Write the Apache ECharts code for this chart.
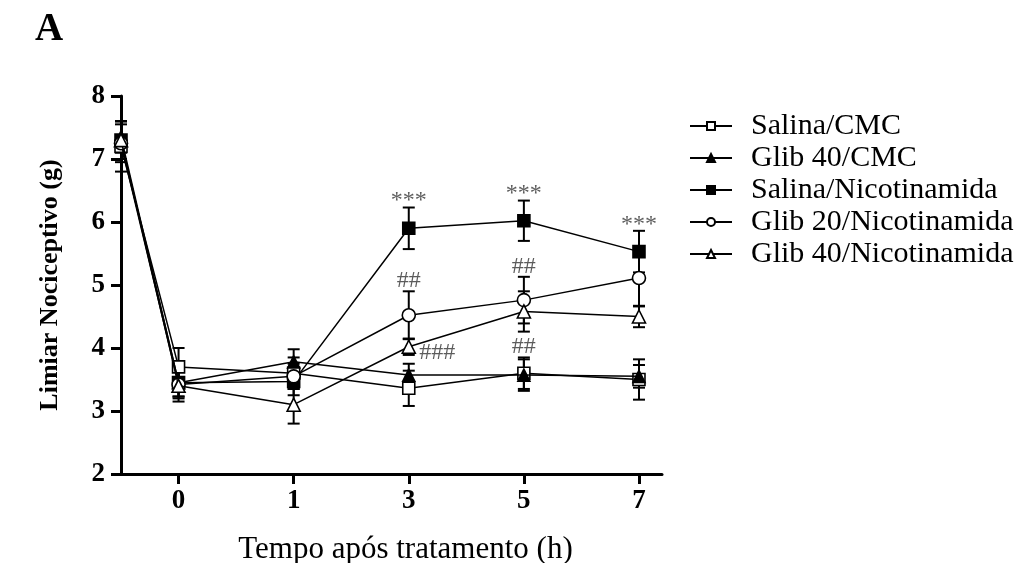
<!DOCTYPE html>
<html>
<head>
<meta charset="utf-8">
<script src="https://cdn.jsdelivr.net/npm/echarts@6/dist/echarts.min.js"></script>
<style>
  html, body { margin: 0; padding: 0; background: #fff; }
  #chart { width: 1033px; height: 563px; }
</style>
</head>
<body>
<div id="chart"></div>
<script>
// Time points after treatment (h) shown on the x axis
const timeLabels = ['0', '1', '3', '5', '7'];
// Slot of each reading on the time axis: the basal reading sits on the left edge (-0.5),
// followed by 0, 1, 3, 5 and 7 h
const timeSlots = [-0.5, 0, 1, 2, 3, 4];

// Group names
const groupNames = ['Salina/CMC', 'Glib 40/CMC', 'Salina/Nicotinamida', 'Glib 20/Nicotinamida', 'Glib 40/Nicotinamida'];

// Mean nociceptive threshold (g) and SEM per group
const salinaCMC      = [7.20, 3.70, 3.60, 3.36, 3.60, 3.50];
const salinaCMCErr   = [0.40, 0.30, 0.25, 0.28, 0.25, 0.32];
const glib40CMC      = [7.35, 3.45, 3.78, 3.57, 3.57, 3.55];
const glib40CMCErr   = [0.25, 0.22, 0.20, 0.18, 0.25, 0.18];
const salinaNic      = [7.30, 3.45, 3.47, 5.90, 6.02, 5.53];
const salinaNicErr   = [0.30, 0.22, 0.22, 0.33, 0.32, 0.33];
const glib20Nic      = [7.25, 3.42, 3.55, 4.52, 4.76, 5.11];
const glib20NicErr   = [0.30, 0.22, 0.20, 0.38, 0.37, 0.45];
const glib40Nic      = [7.30, 3.40, 3.10, 4.02, 4.58, 4.50];
const glib40NicErr   = [0.30, 0.25, 0.30, 0.13, 0.32, 0.17];

const groupMeans = [salinaCMC, glib40CMC, salinaNic, glib20Nic, glib40Nic];
const groupErrs  = [salinaCMCErr, glib40CMCErr, salinaNicErr, glib20NicErr, glib40NicErr];

// Significance marks: group index, reading index, text, where it sits
const sigMarks = [
  { group: 2, reading: 3, text: '***', place: 'top' },
  { group: 2, reading: 4, text: '***', place: 'top' },
  { group: 2, reading: 5, text: '***', place: 'top' },
  { group: 3, reading: 3, text: '##',  place: 'top' },
  { group: 3, reading: 4, text: '##',  place: 'top' },
  { group: 4, reading: 3, text: '###', place: 'right' },
  { group: 0, reading: 4, text: '##',  place: 'top' }
];

// y-axis range
const yMin = 2;
const yMax = 8;

const SERIF = '"Liberation Serif", "Times New Roman", serif';

const symbols = [
  { symbol: 'rect',     size: 12, fill: '#fff' },
  { symbol: 'triangle', size: 12, fill: '#000' },
  { symbol: 'rect',     size: 12, fill: '#000' },
  { symbol: 'circle',   size: 13, fill: '#fff' },
  { symbol: 'triangle', size: 13, fill: '#fff' }
];

function errorBarItem(params, api) {
  const x = api.value(0), y = api.value(1), e = api.value(2);
  const top = api.coord([x, y + e]);
  const bot = api.coord([x, y - e]);
  const half = 6;
  const style = { stroke: '#000', lineWidth: 2 };
  return {
    type: 'group',
    children: [
      { type: 'line', shape: { x1: top[0], y1: top[1], x2: bot[0], y2: bot[1] }, style },
      { type: 'line', shape: { x1: top[0] - half, y1: top[1], x2: top[0] + half, y2: top[1] }, style },
      { type: 'line', shape: { x1: bot[0] - half, y1: bot[1], x2: bot[0] + half, y2: bot[1] }, style }
    ]
  };
}

const series = [];

// Error bars below the lines
groupNames.forEach((name, g) => {
  series.push({
    type: 'custom',
    name: name + ' SEM',
    renderItem: errorBarItem,
    clip: false,
    silent: true,
    z: 1,
    data: timeSlots.map((x, i) => [x, groupMeans[g][i], groupErrs[g][i]])
  });
});

// Mean lines with markers
groupNames.forEach((name, g) => {
  const s = symbols[g];
  series.push({
    type: 'line',
    name: name,
    symbol: s.symbol,
    symbolSize: s.size,
    showAllSymbol: true,
    clip: false,
    z: 3 + g,
    lineStyle: { color: '#000', width: 1.5 },
    itemStyle: { color: s.fill, borderColor: '#000', borderWidth: 1.6 },
    emphasis: { disabled: true },
    data: timeSlots.map((x, i) => [x, groupMeans[g][i]])
  });
});

// Significance labels (asterisks sit high in the glyph box, so they get pulled down a bit more)
series.push({
  type: 'scatter',
  name: 'sig',
  symbolSize: 1,
  silent: true,
  z: 20,
  itemStyle: { color: 'rgba(0,0,0,0)' },
  data: sigMarks.map(m => {
    const mean = groupMeans[m.group][m.reading];
    const err = groupErrs[m.group][m.reading];
    const y = m.place === 'top' ? mean + err : mean;
    let offset = [0, 6];
    if (m.place === 'top') offset = m.text.charAt(0) === '*' ? [0, 7] : [0, 3];
    return {
      value: [timeSlots[m.reading], y],
      label: {
        show: true,
        formatter: m.text,
        position: m.place,
        distance: m.place === 'top' ? 1 : 10,
        offset: offset,
        fontFamily: SERIF,
        fontSize: 24,
        color: '#333'
      }
    };
  })
});

const chart = echarts.init(document.getElementById('chart'), null, { renderer: 'canvas' });
chart.setOption({
  animation: false,
  backgroundColor: '#fff',
  title: {
    text: 'A',
    left: 30,
    top: 5,
    textStyle: { fontFamily: SERIF, fontSize: 39, fontWeight: 'bold', color: '#000' }
  },
  legend: {
    orient: 'vertical',
    left: 684,
    top: 106,
    itemGap: 2,
    itemWidth: 42,
    itemHeight: 10,
    data: groupNames,
    textStyle: { fontFamily: SERIF, fontSize: 30, color: '#000', padding: [0, 0, 0, 14] }
  },
  grid: { left: 121, top: 96, right: 371, bottom: 89, containLabel: false, outerBoundsMode: 'none' },
  xAxis: {
    type: 'value',
    min: -0.5,
    max: 4.2,
    name: 'Tempo após tratamento (h)',
    nameLocation: 'middle',
    nameGap: 60,
    nameTextStyle: { fontFamily: SERIF, fontSize: 31, color: '#000', padding: [0, 0, 0, 28] },
    splitLine: { show: false },
    axisLine: { show: true, onZero: false, lineStyle: { color: '#000', width: 3 } },
    axisTick: {
      show: true,
      length: 10,
      lineStyle: { color: '#000', width: 3 },
      customValues: [0, 1, 2, 3, 4]
    },
    axisLabel: {
      customValues: [0, 1, 2, 3, 4],
      formatter: v => timeLabels[Math.round(v)],
      margin: 14,
      fontFamily: SERIF,
      fontWeight: 'bold',
      fontSize: 27,
      color: '#000'
    }
  },
  yAxis: {
    type: 'value',
    min: yMin,
    max: yMax,
    interval: 1,
    name: 'Limiar Nociceptivo (g)',
    nameLocation: 'middle',
    nameGap: 58,
    nameTextStyle: { fontFamily: SERIF, fontSize: 26, fontWeight: 'bold', color: '#000' },
    splitLine: { show: false },
    axisLine: { show: true, onZero: false, lineStyle: { color: '#000', width: 3 } },
    axisTick: { show: true, length: 10, lineStyle: { color: '#000', width: 3 } },
    axisLabel: {
      margin: 16,
      fontFamily: SERIF,
      fontWeight: 'bold',
      fontSize: 27,
      color: '#000'
    }
  },
  series: series
});
</script>
</body>
</html>
